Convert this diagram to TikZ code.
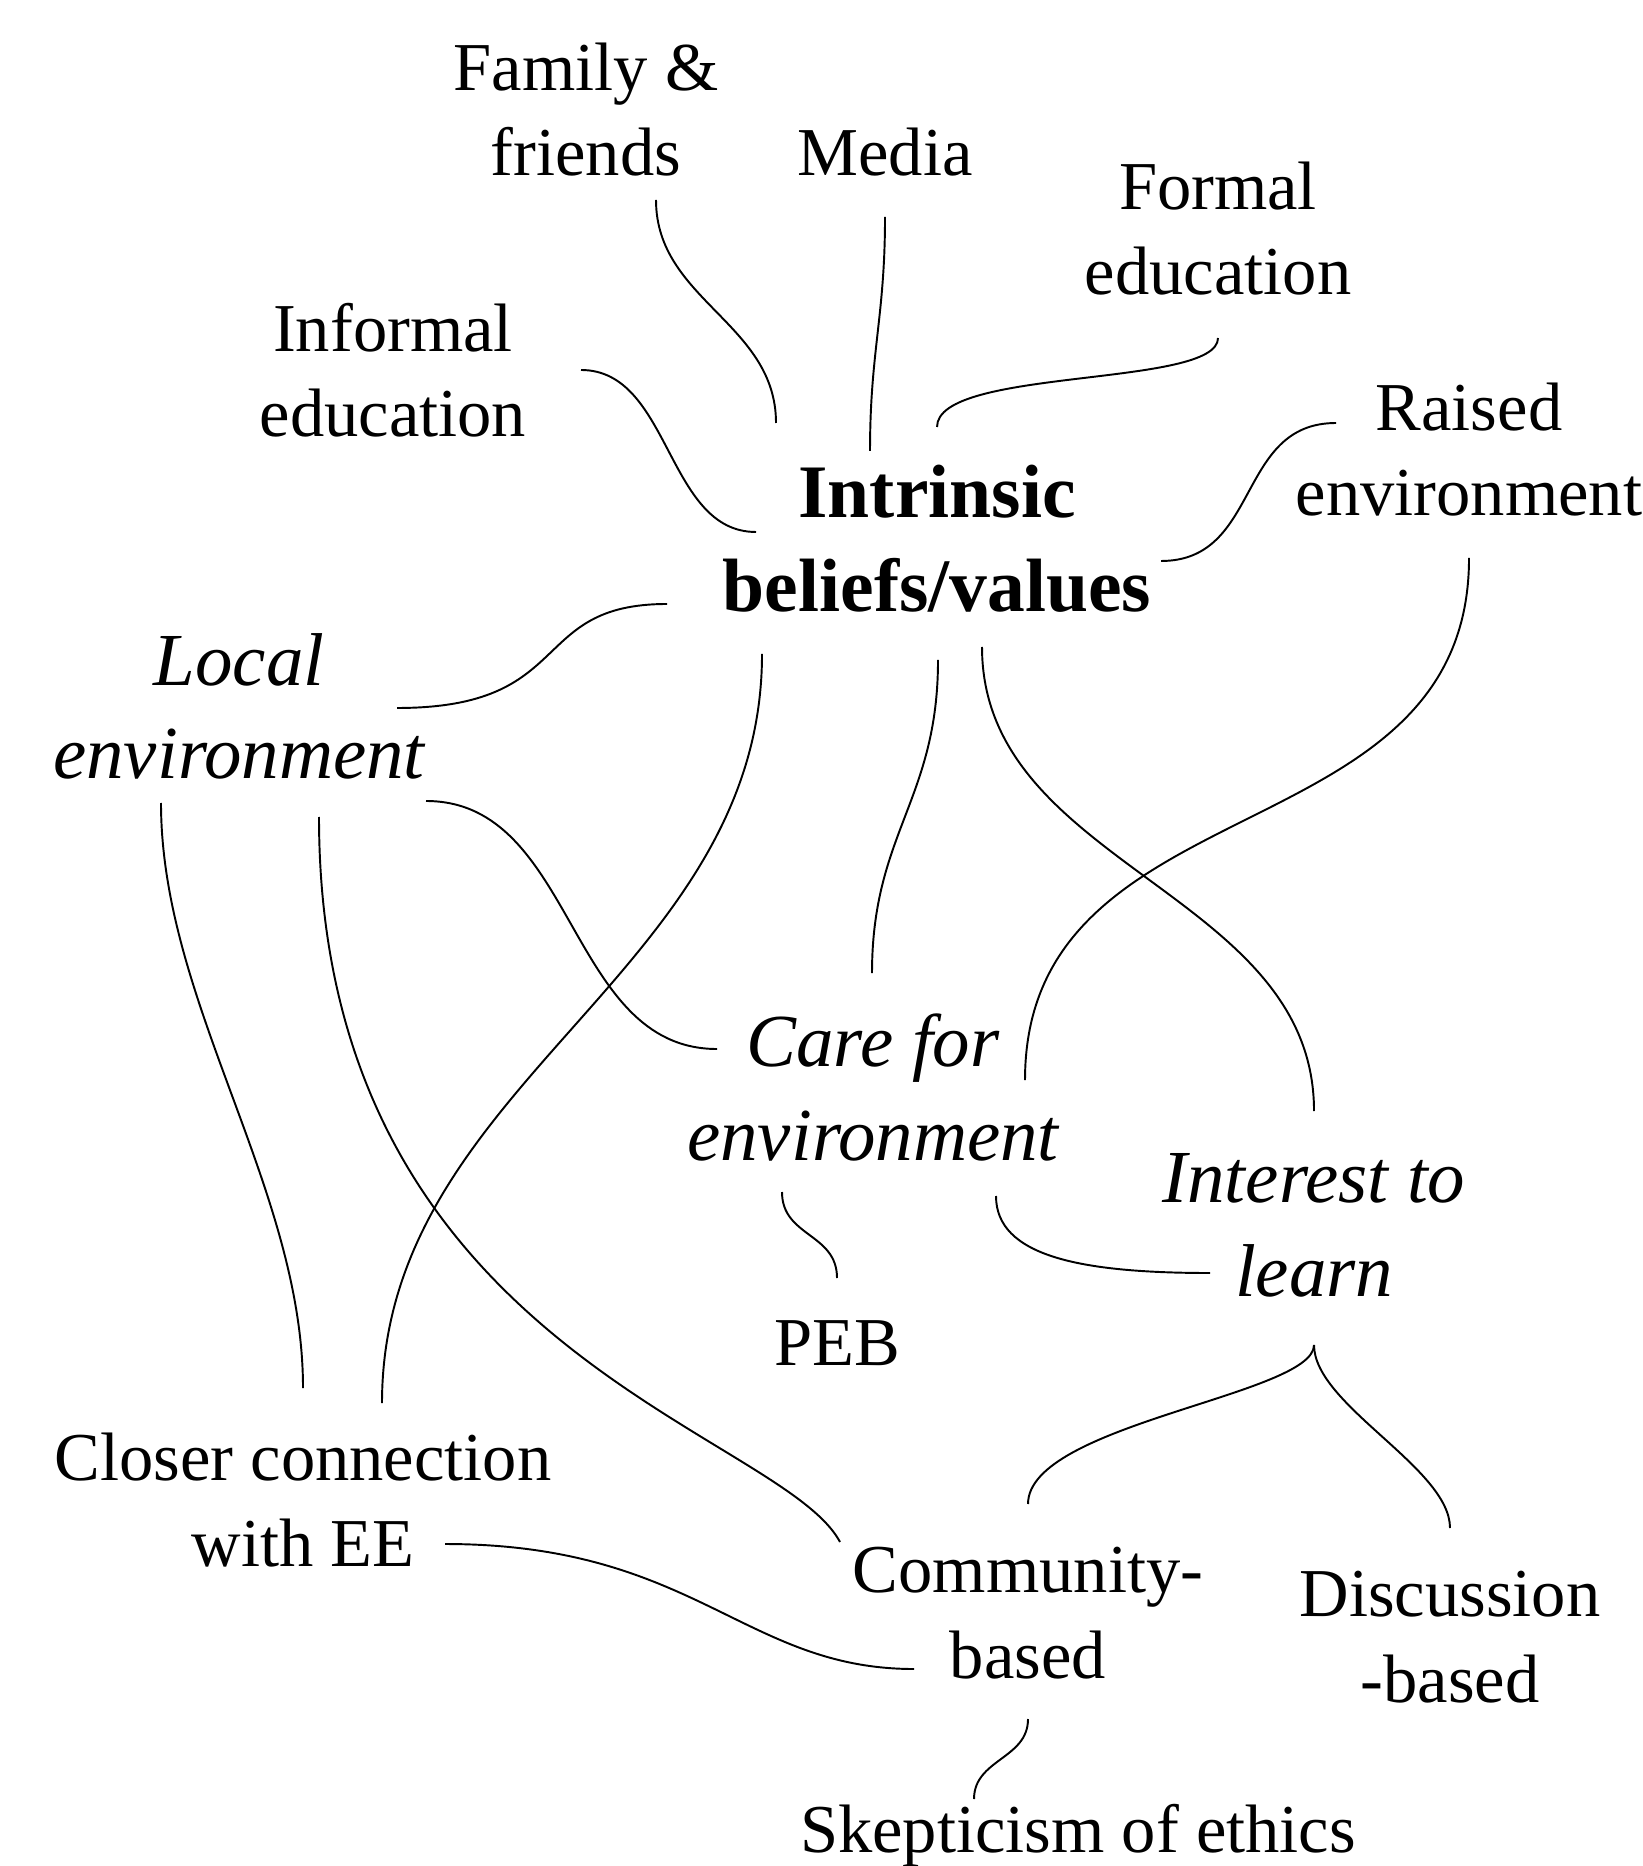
\documentclass[tikz,border=0pt]{standalone}
\usepackage{fontspec}
\setmainfont{Liberation Serif}

\begin{document}
\begin{tikzpicture}[
    lbl/.style={align=center, inner sep=0pt, anchor=base, font={\fontsize{19.5}{24.4}\selectfont}},
    emph/.style={lbl, font={\fontsize{21.3}{26.7}\selectfont\itshape}},
    core/.style={lbl, font={\fontsize{21.5}{27}\selectfont\bfseries}},
    link/.style={line width=0.55pt}
]
\useasboundingbox (0,0) rectangle (16.42,-18.66);

\node[lbl] (fam) at (5.86,-1.76) {Family \&\\friends};
\node[lbl] (media) at (8.85,-1.76) {Media};
\node[lbl] (formal) at (12.18,-2.95) {Formal\\education};
\node[lbl] (informal) at (3.93,-4.37) {Informal\\education};
\node[lbl] (raised) at (14.69,-5.16) {Raised\\environment};
\node[core] (belief) at (9.37,-6.12) {Intrinsic\\beliefs/values};
\node[emph] (local) at (2.39,-7.79) {Local\\environment};
\node[emph] (care) at (8.73,-11.60) {Care for\\environment};
\node[emph] (interest) at (13.14,-12.96) {Interest to\\learn};
\node[lbl] (peb) at (8.37,-13.65) {PEB};
\node[lbl] (closer) at (3.03,-15.66) {Closer connection\\with EE};
\node[lbl] (comm) at (10.28,-16.78) {Community-\\based};
\node[lbl] (disc) at (14.50,-17.02) {Discussion\\-based};
\node[lbl] (skep) at (10.78,-18.52) {Skepticism of ethics};

\draw[link] ([shift={(0.70,-0.24)}]fam.base) .. controls +(0,-1.0) and +(0,1.0) .. ([shift={(-1.61,1.89)}]belief.base);
\draw[link] ([shift={(0,-0.41)}]media.base) .. controls +(0,-1) and +(0,1) .. ([shift={(-0.67,1.61)}]belief.base);
\draw[link] ([shift={(0,-0.43)}]formal.base) .. controls +(0,-0.5) and +(0,0.6) .. ([shift={(0,1.85)}]belief.base);
\draw[link] ([shift={(1.88,0.67)}]informal.base) .. controls +(0.9,0) and +(-0.9,0) .. ([shift={(-1.81,0.80)}]belief.base);
\draw[link] ([shift={(-1.33,0.93)}]raised.base) .. controls +(-1.0,0) and +(1.0,0) .. ([shift={(2.24,0.51)}]belief.base);
\draw[link] ([shift={(1.58,0.71)}]local.base) .. controls +(1.8,0) and +(-1.4,0) .. ([shift={(-2.70,0.08)}]belief.base);

\draw[link] ([shift={(-1.75,-0.42)}]belief.base) .. controls +(0,-3.2) and +(0,3.2) .. ([shift={(0.79,1.63)}]closer.base);
\draw[link] ([shift={(0.01,-0.48)}]belief.base) .. controls +(0,-1.4) and +(0,1.4) .. ([shift={(-0.01,1.87)}]care.base);
\draw[link] ([shift={(0.45,-0.35)}]belief.base) .. controls +(0,-2.2) and +(0,2.2) .. ([shift={(0,1.85)}]interest.base);
\draw[link] ([shift={(0,-0.42)}]raised.base) .. controls +(0,-3.0) and +(0,3.0) .. ([shift={(1.52,0.80)}]care.base);

\draw[link] ([shift={(1.87,-0.22)}]local.base) .. controls +(1.5,0) and +(-1.5,0) .. ([shift={(-1.56,1.11)}]care.base);
\draw[link] ([shift={(-0.78,-0.24)}]local.base) .. controls +(0,-2.0) and +(0,2.0) .. ([shift={(0,1.78)}]closer.base);
\draw[link] ([shift={(0.80,-0.38)}]local.base) .. controls +(0,-5.33) and +(-0.60,1.12) .. ([shift={(-1.88,1.36)}]comm.base);
\draw[link] ([shift={(1.42,0.22)}]closer.base) .. controls +(2.5,0) and +(-1.7,0) .. ([shift={(-1.14,0.09)}]comm.base);

\draw[link] ([shift={(-0.91,-0.32)}]care.base) .. controls +(0,-0.45) and +(0,0.45) .. ([shift={(0,0.87)}]peb.base);
\draw[link] ([shift={(1.23,-0.36)}]care.base) .. controls +(0,-0.6) and +(-1.3,0) .. ([shift={(-1.04,0.23)}]interest.base);
\draw[link] ([shift={(0,-0.49)}]interest.base) .. controls +(0,-0.5) and +(0,0.8) .. ([shift={(0,1.74)}]comm.base);
\draw[link] ([shift={(0,-0.49)}]interest.base) .. controls +(0,-0.6) and +(0,0.6) .. ([shift={(0,1.74)}]disc.base);
\draw[link] ([shift={(0,-0.41)}]comm.base) .. controls +(0,-0.4) and +(0,0.4) .. ([shift={(-1.04,0.53)}]skep.base);
\end{tikzpicture}
\end{document}
